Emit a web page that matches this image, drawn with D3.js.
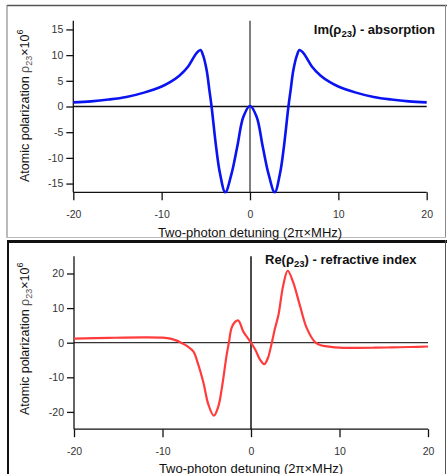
<!DOCTYPE html>
<html>
<head>
<meta charset="UTF-8">
<script src="https://cdn.jsdelivr.net/npm/d3@7"></script>
<style>
  body { margin: 0; background: #fff; }
  svg { display: block; font-family: "Liberation Sans", Arial, sans-serif; }
</style>
</head>
<body>
<div id="chart"></div>
<script>
// detuning values (2pi x MHz) and read-off curve values
const imX = [-20, -18, -16, -14, -12, -10, -9, -8, -7, -6.5, -6, -5.6, -5.3, -4.9, -4.6, -4.35, -3.84, -3.4, -2.8, -2.08, -1.44, -0.75, 0,
             0.75, 1.44, 2.08, 2.8, 3.4, 3.84, 4.35, 4.6, 4.9, 5.3, 5.6, 6, 6.5, 7, 8, 9, 10, 12, 14, 16, 18, 20];
const imY = [0.8, 1.0, 1.35, 1.85, 2.7, 3.9, 4.8, 6.0, 7.8, 9.2, 10.5, 11.0, 9.9, 7.0, 3.2, 0, -7.8, -13, -16.7, -13, -7.8, -2.0, 0.1,
             -2.0, -7.8, -13, -16.7, -13, -7.8, 0, 3.2, 7.0, 9.9, 11.0, 10.5, 9.2, 7.8, 6.0, 4.8, 3.9, 2.7, 1.85, 1.35, 1.0, 0.8];

const reX = [-20, -16, -12, -10, -9, -8.4, -7.9, -7.2, -6.5, -6, -5.4, -4.8, -4.2, -3.7, -3.3, -2.75, -2.5, -2.2, -1.8, -1.43, -0.87, -0.4, 0,
             0.5, 1.0, 1.5, 1.9, 2.35, 2.7, 3.1, 3.65, 4.15, 4.75, 5.5, 6.3, 7.3, 8, 9, 10, 12, 14, 16, 18, 20];
const reY = [1.15, 1.4, 1.55, 1.45, 1.1, 0.6, 0, -1.0, -2.6, -6.0, -11.3, -18, -21.1, -18.5, -13.2, -3.5, 0, 4.2, 6.0, 6.4, 3.2, 1.5, 0,
             -2.1, -4.8, -6.2, -4.5, 0, 4, 8, 16.7, 20.8, 17.6, 11, 4.2, 0, -0.8, -1.2, -1.4, -1.5, -1.45, -1.35, -1.25, -1.1];

const xTicks = [-20, -10, 0, 10, 20];
const imTicks = [-15, -10, -5, 0, 5, 10, 15];
const reTicks = [-20, -10, 0, 10, 20];

const W = 447, H = 474;
const svg = d3.select('#chart').append('svg').attr('width', W).attr('height', H);

// panel frames
svg.append('line').attr('x1', 7).attr('x2', 447).attr('y1', 5.5).attr('y2', 5.5).attr('stroke', '#555').attr('stroke-width', 1.5);
svg.append('line').attr('x1', 7).attr('x2', 7).attr('y1', 5).attr('y2', 238).attr('stroke', '#777').attr('stroke-width', 1);
svg.append('line').attr('x1', 445.5).attr('x2', 445.5).attr('y1', 5).attr('y2', 238).attr('stroke', '#888').attr('stroke-width', 1);
svg.append('line').attr('x1', 7).attr('x2', 446).attr('y1', 237.5).attr('y2', 237.5).attr('stroke', '#bbb').attr('stroke-width', 1);

svg.append('line').attr('x1', 7).attr('x2', 447).attr('y1', 241.5).attr('y2', 241.5).attr('stroke', '#111').attr('stroke-width', 3);
svg.append('line').attr('x1', 8).attr('x2', 8).attr('y1', 240).attr('y2', 474).attr('stroke', '#111').attr('stroke-width', 2);
svg.append('line').attr('x1', 445.5).attr('x2', 445.5).attr('y1', 240).attr('y2', 474).attr('stroke', '#555').attr('stroke-width', 1);

function drawPanel(cfg) {
  const x = d3.scaleLinear().domain([-20, 20]).range(cfg.xr);
  const y = d3.scaleLinear().domain(cfg.yd).range(cfg.yr);
  const g = svg.append('g');

  // zero lines
  g.append('line').attr('x1', x(-20)).attr('x2', x(20)).attr('y1', y(0)).attr('y2', y(0))
    .attr('stroke', cfg.zeroColor).attr('stroke-width', 1.3);
  g.append('line').attr('x1', x(0)).attr('x2', x(0)).attr('y1', y(cfg.yd[1])).attr('y2', y(cfg.yd[0]))
    .attr('stroke', cfg.vColor).attr('stroke-width', 1.5);

  const fmt = d => String(d);
  const xAxis = g.append('g').attr('transform', `translate(0,${y(cfg.yd[0])})`)
    .call(d3.axisBottom(x).tickValues(xTicks).tickFormat(fmt).tickSize(8).tickPadding(10));
  const yAxis = g.append('g').attr('transform', `translate(${x(-20)},0)`)
    .call(d3.axisLeft(y).tickValues(cfg.yTicks).tickFormat(fmt).tickSize(7).tickPadding(3));
  [xAxis, yAxis].forEach(a => {
    a.select('.domain').attr('stroke', '#111').attr('stroke-width', 1.3);
    a.selectAll('.tick line').attr('stroke', '#111').attr('stroke-width', 1.3);
    a.selectAll('.tick text').attr('fill', '#333').style('font-size', '10.5px');
  });
  xAxis.select('.domain').attr('d', `M${x(-20)},0H${x(20)}`);
  yAxis.select('.domain').attr('d', `M0,${y(cfg.yd[1])}V${y(cfg.yd[0])}`);

  const line = d3.line().x(d => x(d[0])).y(d => y(d[1])).curve(d3.curveCatmullRom.alpha(0.5));
  g.append('path').datum(cfg.xs.map((v, i) => [v, cfg.ys[i]]))
    .attr('d', line).attr('fill', 'none').attr('stroke', cfg.color).attr('stroke-width', cfg.lw)
    .attr('stroke-linejoin', 'round');

  // x title
  g.append('text').attr('x', (x(-20) + x(20)) / 2).attr('y', cfg.xTitleY).attr('text-anchor', 'middle')
    .style('font-size', '13px').attr('fill', '#111').text('Two-photon detuning (2π×MHz)');

  // y title
  const yt = g.append('text').attr('transform', `translate(29,${cfg.yTitleStart}) rotate(-90)`)
    .style('font-size', '12.5px').attr('fill', '#111');
  yt.append('tspan').text('Atomic polarization ');
  yt.append('tspan').attr('fill', '#555').text('ρ');
  yt.append('tspan').attr('dy', 3).style('font-size', '9px').attr('fill', '#555').text('23');
  yt.append('tspan').attr('dy', -3).text('×10');
  yt.append('tspan').attr('dy', -6).style('font-size', '9px').text('6');

  // panel title
  const t = g.append('text').attr('x', cfg.titleX).attr('y', cfg.titleY).attr('text-anchor', cfg.titleAnchor)
    .style('font-size', '13px').style('font-weight', 'bold').attr('fill', '#111');
  t.append('tspan').text(cfg.titlePre + '(ρ');
  t.append('tspan').attr('dy', 3).style('font-size', '9.5px').text('23');
  t.append('tspan').attr('dy', -3).text(') - ' + cfg.titlePost);
}

drawPanel({
  xr: [73.3, 426.7], yd: [-16.7, 16.7], yr: [192.3, 20.7], yTicks: imTicks,
  xs: imX, ys: imY, color: '#0a14f0', lw: 2.6, zeroColor: '#111', vColor: '#555',
  xTitleY: 236.5, yTitleStart: 182,
  titleX: 435, titleY: 34.3, titleAnchor: 'end', titlePre: 'Im', titlePost: 'absorption'
});

drawPanel({
  xr: [74, 428], yd: [-25, 25], yr: [429.2, 256.2], yTicks: reTicks,
  xs: reX, ys: reY, color: '#ff3b3b', lw: 2.2, zeroColor: '#333', vColor: '#111',
  xTitleY: 472.5, yTitleStart: 415,
  titleX: 265, titleY: 264.3, titleAnchor: 'start', titlePre: 'Re', titlePost: 'refractive index'
});
</script>
</body>
</html>
